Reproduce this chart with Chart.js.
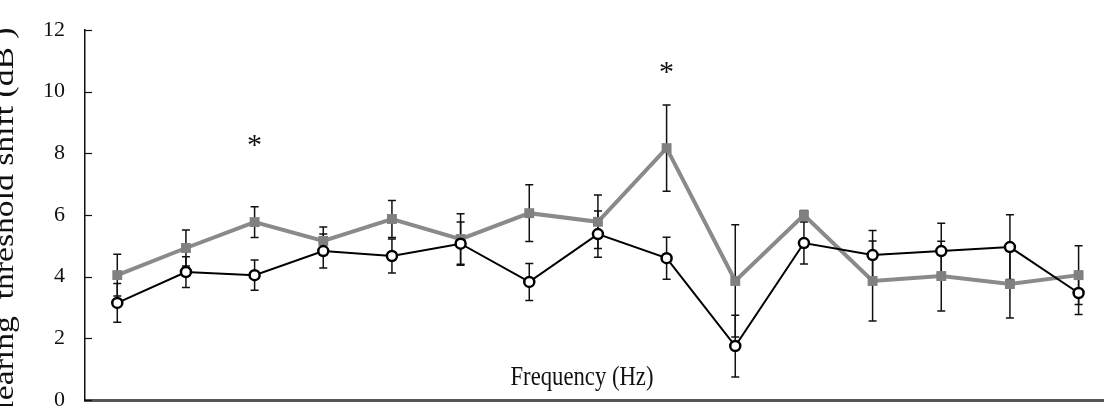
<!DOCTYPE html>
<html>
<head>
<meta charset="utf-8">
<script src="https://cdn.jsdelivr.net/npm/chart.js@4.4.0/dist/chart.umd.min.js"></script>
<style>
  body { margin: 0; background: #fff; }
</style>
</head>
<body>
<canvas id="chart" width="1104" height="406"></canvas>
<script>
// Data
const freqIndex = [0, 1, 2, 3, 4, 5, 6, 7, 8, 9, 10, 11, 12, 13, 14];
const grayMean  = [4.05, 4.93, 5.77, 5.16, 5.87, 5.22, 6.06, 5.78, 8.17, 3.86, 6.00, 3.86, 4.02, 3.76, 4.05];
const graySE    = [0.68, 0.58, 0.50, 0.45, 0.60, 0.82, 0.92, 0.87, 1.40, 1.82, 0.15, 1.30, 1.13, 1.10, 0.95];
const blackMean = [3.15, 4.15, 4.05, 4.83, 4.67, 5.07, 3.83, 5.38, 4.60, 1.75, 5.09, 4.70, 4.83, 4.96, 3.47];
const blackSE   = [0.63, 0.50, 0.49, 0.55, 0.55, 0.70, 0.60, 0.75, 0.68, 1.00, 0.68, 0.80, 0.90, 1.05, 0.70];
const yTicks = [0, 2, 4, 6, 8, 10, 12];
const starIndex = [2, 8];
const starValue = [8.43, 10.8];

const toPoints = (ys) => freqIndex.map((x, i) => ({ x: x, y: ys[i] }));

// error bars under the markers
const errorBars = {
    id: 'errorBars',
    beforeDatasetsDraw(chart) {
        const ctx = chart.ctx;
        const xs = chart.scales.x, ys = chart.scales.y;
        const sets = [[grayMean, graySE], [blackMean, blackSE]];
        ctx.save();
        ctx.strokeStyle = '#111';
        ctx.lineWidth = 1.5;
        sets.forEach(([mean, se]) => {
            freqIndex.forEach((f, i) => {
                const px = xs.getPixelForValue(f);
                const top = ys.getPixelForValue(mean[i] + se[i]);
                const bot = ys.getPixelForValue(mean[i] - se[i]);
                ctx.beginPath();
                ctx.moveTo(px, top); ctx.lineTo(px, bot);
                ctx.moveTo(px - 4, top); ctx.lineTo(px + 4, top);
                ctx.moveTo(px - 4, bot); ctx.lineTo(px + 4, bot);
                ctx.stroke();
            });
        });
        ctx.restore();
    }
};

// texts, inner ticks, stars
const decorations = {
    id: 'decorations',
    afterDraw(chart) {
        const ctx = chart.ctx;
        const xs = chart.scales.x, ys = chart.scales.y;
        const area = chart.chartArea;
        ctx.save();

        // inward tick marks on the y axis
        ctx.strokeStyle = '#111';
        ctx.lineWidth = 1.2;
        yTicks.forEach(t => {
            const py = Math.round(ys.getPixelForValue(t)) + 0.5;
            ctx.beginPath();
            ctx.moveTo(area.left, py);
            ctx.lineTo(area.left + 7, py);
            ctx.stroke();
        });

        // asterisks
        ctx.fillStyle = '#111';
        ctx.font = '30px "Liberation Serif"';
        ctx.textAlign = 'center';
        ctx.textBaseline = 'middle';
        starIndex.forEach((f, i) => {
            ctx.fillText('*', xs.getPixelForValue(f), ys.getPixelForValue(starValue[i]) + 6);
        });

        // x axis title inside the plot
        ctx.save();
        ctx.font = '28px "Liberation Serif"';
        ctx.textBaseline = 'alphabetic';
        const txt = 'Frequency (Hz)';
        const w = ctx.measureText(txt).width;
        ctx.translate(582, 385);
        ctx.scale(143 / w, 1);
        ctx.fillText(txt, 0, 0);
        ctx.restore();

        // y axis title, partly cut by the left edge
        ctx.save();
        ctx.font = '27px "Liberation Serif"';
        ctx.textBaseline = 'alphabetic';
        const ytxt = 'Hearing  threshold shift (dB )';
        const yw = ctx.measureText(ytxt).width;
        ctx.translate(13, 226);
        ctx.rotate(-Math.PI / 2);
        ctx.scale(397 / yw, 1);
        ctx.fillText(ytxt, 0, 0);
        ctx.restore();

        ctx.restore();
    }
};

new Chart(document.getElementById('chart'), {
    type: 'line',
    data: {
        datasets: [
            {
                label: 'black',
                data: toPoints(blackMean),
                borderColor: '#000',
                borderWidth: 2,
                pointStyle: 'circle',
                pointRadius: 5,
                pointBorderWidth: 2.5,
                pointBackgroundColor: '#fff',
                pointBorderColor: '#000',
                order: 0
            },
            {
                label: 'gray',
                data: toPoints(grayMean),
                borderColor: '#8a8a8a',
                borderWidth: 4,
                pointStyle: 'rect',
                pointRadius: 7,
                pointBorderWidth: 0,
                pointBackgroundColor: '#808080',
                pointBorderColor: '#808080',
                order: 1
            }
        ]
    },
    options: {
        responsive: false,
        animation: false,
        layout: { autoPadding: false, padding: { top: 30, right: 0, bottom: 6, left: 0 } },
        plugins: {
            legend: { display: false },
            tooltip: { enabled: false }
        },
        scales: {
            x: {
                type: 'linear',
                min: -0.47,
                max: 14.37,
                grid: { display: false, drawTicks: false },
                ticks: { display: false },
                border: { display: true, color: '#555', width: 3 },
                afterFit(scale) { scale.height = 0; }
            },
            y: {
                min: 0,
                max: 12,
                afterBuildTicks(scale) { scale.ticks = yTicks.map(v => ({ value: v })); },
                grid: { display: false, drawTicks: true, tickLength: 20 },
                border: { display: true, color: '#111', width: 1.5 },
                ticks: {
                    color: '#111',
                    padding: 0,
                    font: { family: '"Liberation Serif"', size: 22 }
                },
                afterFit(scale) {
                    scale.width = 85;
                    scale.paddingTop = 0;
                    scale.paddingBottom = 0;
                }
            }
        }
    },
    plugins: [errorBars, decorations]
});
</script>
</body>
</html>
